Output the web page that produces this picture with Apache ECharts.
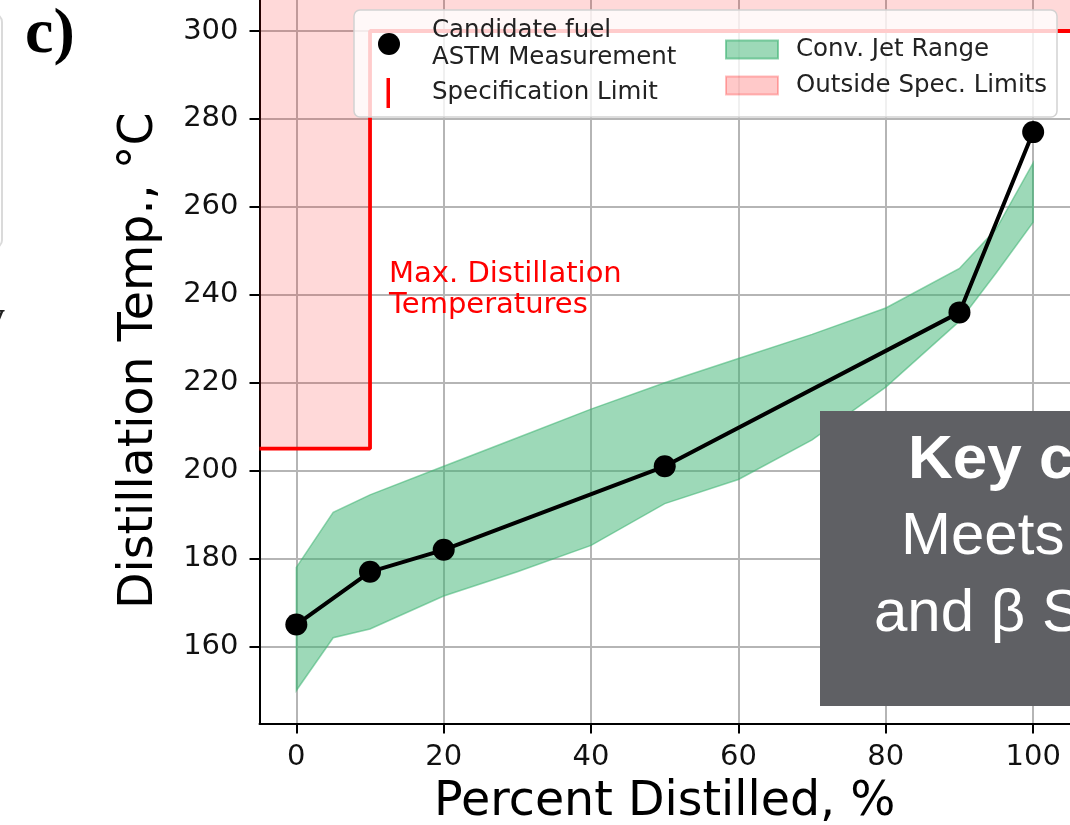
<!DOCTYPE html>
<html>
<head>
<meta charset="utf-8">
<script src="https://cdn.jsdelivr.net/npm/echarts@6/dist/echarts.min.js"></script>
<style>html,body{margin:0;padding:0;background:#fff;}#c{width:1070px;height:825px;}</style>
</head>
<body>
<div id="c"></div>
<script>
// ---- data ----
const percentDistilled = [0, 10, 20, 50, 90, 100];
const candidateTemp = [165, 177, 182, 201, 236, 277];
const jetPercent = [0, 5, 10, 20, 30, 40, 50, 60, 70, 80, 90, 95, 100];
const jetLow  = [150, 162, 164, 171.5, 177, 183, 192.5, 198, 207, 219, 234, 245, 256.5];
const jetHigh = [178, 190.5, 194.5, 201, 207.5, 214, 220, 225.5, 231, 237, 246, 255, 270];
const specPercent = [-5, 10, 10, 105];
const specTemp = [205, 205, 300, 300];
const xTicks = [0, 20, 40, 60, 80, 100];
const yTicks = [160, 180, 200, 220, 240, 260, 280, 300];

const FONT = '"DejaVu Sans", sans-serif';
const chart = echarts.init(document.getElementById('c'), null, {renderer: 'canvas'});

const specData = specPercent.map((p, i) => [p, specTemp[i]]);
const candData = percentDistilled.map((p, i) => [p, candidateTemp[i]]);
const jetData = jetPercent.map((p, i) => [p, jetLow[i], jetHigh[i]]);

const legendBase = {
  orient: 'vertical', padding: 0, selectedMode: false, z: 7
};
const LFS = 24.5;

const option = {
  animation: false,
  backgroundColor: '#fff',
  grid: {left: 259.5, right: 0, top: -2, bottom: 101.5, containLabel: false, outerBoundsMode: 'none'},
  xAxis: {
    type: 'value', min: -5, max: 105,
    name: 'Percent Distilled, %', nameLocation: 'middle', nameGap: 55,
    nameTextStyle: {fontFamily: FONT, fontSize: 47.5, color: '#000'},
    axisLine: {onZero: false, lineStyle: {color: '#000', width: 2}},
    axisTick: {customValues: xTicks, length: 10, lineStyle: {color: '#000', width: 2}},
    axisLabel: {customValues: xTicks, margin: 19, fontFamily: FONT, fontSize: 29, color: '#111'},
    splitLine: {show: true, lineStyle: {color: '#b5b5b5', width: 2}}
  },
  yAxis: {
    type: 'value', min: 142.5, max: 307.5,
    name: 'Distillation Temp., °C', nameLocation: 'middle', nameGap: 96,
    nameTextStyle: {fontFamily: FONT, fontSize: 47.5, color: '#000'},
    axisLine: {show: true, onZero: false, lineStyle: {color: '#000', width: 2}},
    axisTick: {show: true, customValues: yTicks, length: 10, lineStyle: {color: '#000', width: 2}},
    axisLabel: {customValues: yTicks, margin: 21, fontFamily: FONT, fontSize: 29, color: '#111'},
    splitLine: {show: true, lineStyle: {color: '#b5b5b5', width: 2}}
  },
  legend: [
    Object.assign({}, legendBase, {
      left: 378, top: 17, itemWidth: 22, itemHeight: 22,
      data: [{name: 'Candidate fuel\nASTM Measurement', icon: 'circle', itemStyle: {color: '#000'}}],
      textStyle: {fontFamily: FONT, fontSize: LFS, color: '#222', lineHeight: 27, padding: [0, 0, 0, 27]}
    }),
    Object.assign({}, legendBase, {
      left: 386.5, top: 78, itemWidth: 3.5, itemHeight: 30,
      data: [{name: 'Specification Limit', icon: 'rect', itemStyle: {color: '#ff0000'}}],
      textStyle: {fontFamily: FONT, fontSize: LFS, color: '#222', lineHeight: 24, padding: [0, 0, 0, 37]}
    }),
    Object.assign({}, legendBase, {
      left: 725, top: 37, itemWidth: 52, itemHeight: 18,
      data: [{name: 'Conv. Jet Range', icon: 'rect', itemStyle: {color: 'rgba(60,179,113,0.5)', borderColor: 'rgba(60,179,113,0.6)', borderWidth: 2}}],
      textStyle: {fontFamily: FONT, fontSize: LFS, color: '#222', lineHeight: 18, padding: [0, 0, 0, 13]}
    }),
    Object.assign({}, legendBase, {
      left: 725, top: 73, itemWidth: 52, itemHeight: 18,
      data: [{name: 'Outside Spec. Limits', icon: 'rect', itemStyle: {color: 'rgba(255,0,0,0.21)', borderColor: 'rgba(255,0,0,0.25)', borderWidth: 2}}],
      textStyle: {fontFamily: FONT, fontSize: LFS, color: '#222', lineHeight: 18, padding: [0, 0, 0, 13]}
    })
  ],
  series: [
    {
      name: 'Outside Spec. Limits', type: 'line', data: specData, z: 2,
      symbol: 'none', lineStyle: {width: 0, opacity: 0},
      itemStyle: {color: 'rgba(255,0,0,0.21)'},
      areaStyle: {origin: 'end', color: 'rgba(255,0,0,0.21)'}
    },
    {
      name: 'Conv. Jet Range', type: 'custom', data: jetData, z: 2,
      encode: {x: 0, y: [1, 2]},
      itemStyle: {color: 'rgba(60,179,113,0.5)'},
      renderItem: function (params, api) {
        if (params.dataIndex !== 0) return null;
        const upper = jetPercent.map((p, i) => api.coord([p, jetHigh[i]]));
        const lower = jetPercent.map((p, i) => api.coord([p, jetLow[i]])).reverse();
        return {
          type: 'polygon',
          shape: {points: upper.concat(lower)},
          style: {fill: 'rgba(60,179,113,0.5)', stroke: 'rgba(60,179,113,0.55)', lineWidth: 1.5}
        };
      }
    },
    {
      name: 'Specification Limit', type: 'line', data: specData, z: 3,
      symbol: 'none', lineStyle: {color: '#ff0000', width: 3.8},
      itemStyle: {color: '#ff0000'}
    },
    {
      name: 'Candidate fuel\nASTM Measurement', type: 'line', data: candData, z: 5,
      symbol: 'circle', symbolSize: 22, showAllSymbol: true,
      itemStyle: {color: '#000'}, lineStyle: {color: '#000', width: 4}
    }
  ],
  graphic: [
    {type: 'rect', z: 6, shape: {x: 354, y: 10, width: 703, height: 107, r: 6},
     style: {fill: 'rgba(255,255,255,0.8)', stroke: '#d2d2d2', lineWidth: 1.5}},
    {type: 'text', z: 4, x: 389, y: 259,
     style: {text: 'Max. Distillation\nTemperatures', fill: '#ff0000', font: '29px "DejaVu Sans"', lineHeight: 31, verticalAlign: 'top'}},
    {type: 'text', z: 10, x: 25, y: 35,
     style: {text: 'c)', fill: '#000', font: 'bold 64px "Liberation Serif"', verticalAlign: 'middle'}},
    {type: 'rect', z: 10, shape: {x: -300, y: 14, width: 302, height: 234, r: 8},
     style: {fill: 'none', stroke: '#dadada', lineWidth: 2}},
    {type: 'text', z: 10, x: -16, y: 318,
     style: {text: 'y', fill: '#222', font: 'bold 42px "Liberation Serif"', verticalAlign: 'middle'}},
    {type: 'rect', z: 20, shape: {x: 820, y: 411, width: 270, height: 295},
     style: {fill: '#5f6064'}},
    {type: 'text', z: 21, x: 908, y: 460.5,
     style: {text: 'Key c', fill: '#fff', font: 'bold 62px "Liberation Sans"', verticalAlign: 'middle'}},
    {type: 'text', z: 21, x: 901, y: 537,
     style: {text: 'Meets', fill: '#fff', font: '60px "Liberation Sans"', verticalAlign: 'middle'}},
    {type: 'text', z: 21, x: 874, y: 614,
     style: {text: 'and β S', fill: '#fff', font: '60px "Liberation Sans"', verticalAlign: 'middle'}}
  ]
};
chart.setOption(option);
</script>
</body>
</html>
